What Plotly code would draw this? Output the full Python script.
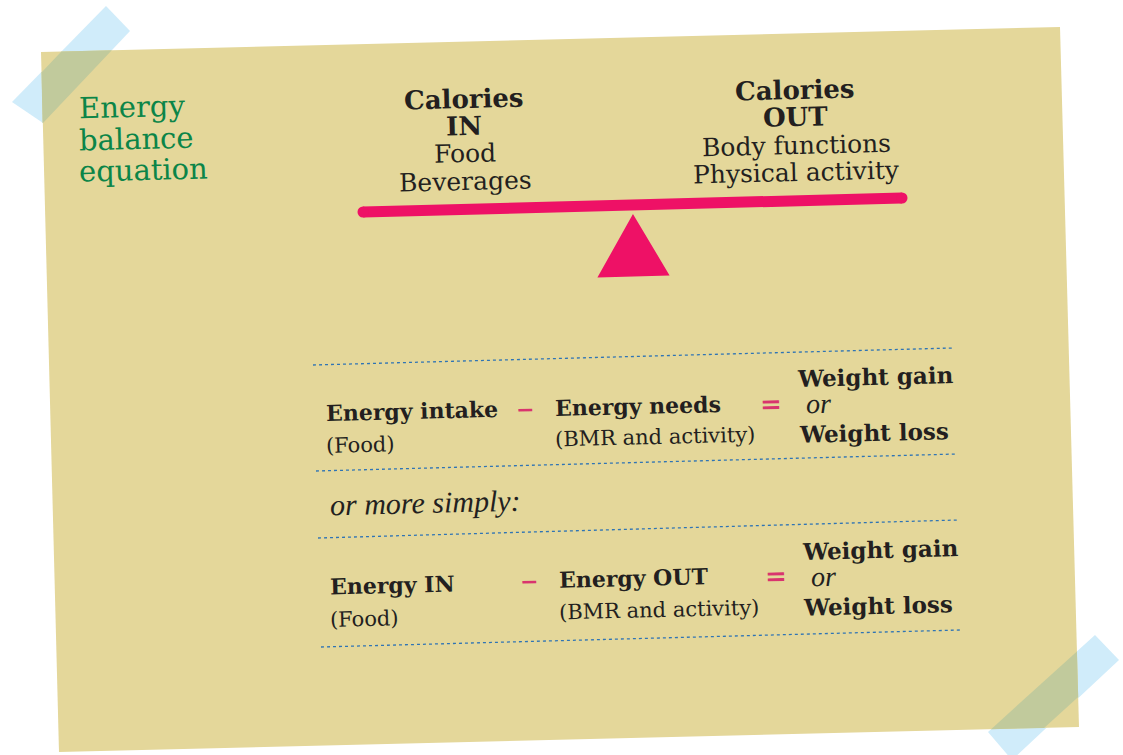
import plotly.graph_objects as go

# ---- text content ----
title_lines = ["Energy", "balance", "equation"]
in_head = ["Calories", "IN"]
in_items = ["Food", "Beverages"]
out_head = ["Calories", "OUT"]
out_items = ["Body functions", "Physical activity"]
eq1_terms = ["Energy intake", "Energy needs"]
eq1_notes = ["(Food)", "(BMR and activity)"]
eq2_terms = ["Energy IN", "Energy OUT"]
eq2_notes = ["(Food)", "(BMR and activity)"]
results = ["Weight gain", "or", "Weight loss"]
simply_text = "or more simply:"
operators = ["−", "="]

W, H = 1123, 755
ANG = -1.4
PAPER = "#E4D79A"
TAPE = "#D0ECFA"
TAPE_ON_PAPER = "#C1CA9C"
PINK = "#EE1166"
OPCOL = "#D9346E"
DARK = "#231F20"
GREEN = "#0B8548"
DOT = "#2F74B5"

SLAB = "DejaVu Serif"
ITAL = "Liberation Serif"

fig = go.Figure()

shapes = []
# tapes (under paper), paper, overlap regions
shapes.append(dict(type="path", path="M 106 6 L 130 31 L 43 123 L 12 102 Z",
                   fillcolor=TAPE, line=dict(width=0), layer="below"))
shapes.append(dict(type="path", path="M 1095 635 L 1119 660 L 1012 760 L 988 732 Z",
                   fillcolor=TAPE, line=dict(width=0), layer="below"))
shapes.append(dict(type="path", path="M 41 52 L 1060 27 L 1079 727 L 59 752 Z",
                   fillcolor=PAPER, line=dict(width=0), layer="below"))
shapes.append(dict(type="path", path="M 41.5 72.4 L 61.4 51.5 L 111.8 50.3 L 43 123 L 42.5 122.7 Z",
                   fillcolor=TAPE_ON_PAPER, line=dict(width=0), layer="below"))
shapes.append(dict(type="path", path="M 991.1 729.2 L 1076.9 651.4 L 1078.2 697.0 L 1044.1 727.9 Z",
                   fillcolor=TAPE_ON_PAPER, line=dict(width=0), layer="below"))
# fulcrum triangle
shapes.append(dict(type="path", path="M 633 217 L 667 274 L 600 276 Z",
                   fillcolor=PINK, line=dict(color=PINK, width=3)))
# dotted separators
for (x0, y0, x1, y1) in [(313, 365, 953, 348), (316, 471, 957, 454),
                         (318, 538, 958, 520), (321, 647, 960, 630)]:
    shapes.append(dict(type="line", x0=x0, y0=y0, x1=x1, y1=y1,
                       line=dict(color=DOT, width=1.3, dash="dot")))

# beam
fig.add_trace(go.Scatter(x=[363, 902], y=[212, 198], mode="lines+markers",
                         line=dict(color=PINK, width=11),
                         marker=dict(color=PINK, size=11, line=dict(width=0)),
                         hoverinfo="skip", showlegend=False))

ann = []
def txt(s, x, y, size, color=DARK, family=SLAB, weight="normal", style="normal",
        xanchor="center"):
    ann.append(dict(text=s, x=x, y=y, xref="x", yref="y", showarrow=False,
                    xanchor=xanchor, yanchor="middle", textangle=ANG,
                    font=dict(size=size, color=color, family=family,
                              weight=weight, style=style)))

# title
for line, y in zip(title_lines, [107, 139, 170]):
    txt(line, 77, y, 29, color=GREEN, xanchor="left")

# calories in
for line, y in zip(in_head, [99, 126]):
    txt(line, 464, y, 26, weight="bold")
for line, y in zip(in_items, [153, 181]):
    txt(line, 465, y, 25)
# calories out
for line, y in zip(out_head, [90, 117]):
    txt(line, 795, y, 26, weight="bold")
for line, y in zip(out_items, [145, 172]):
    txt(line, 796, y, 25)

# equation 1
txt(eq1_terms[0], 324, 411, 22, weight="bold", xanchor="left")
txt(eq1_notes[0], 324, 445, 21, xanchor="left")
txt(operators[0], 525, 409, 22, color=OPCOL, weight="bold")
txt(eq1_terms[1], 553, 406, 22, weight="bold", xanchor="left")
txt(eq1_notes[1], 553, 437, 21, xanchor="left")
txt(operators[1], 771, 404, 26, color=OPCOL, weight="bold")
txt(results[0], 795, 376, 23, weight="bold", xanchor="left")
txt(results[1], 804, 403, 28, family=ITAL, style="italic", xanchor="left")
txt(results[2], 797, 432, 23, weight="bold", xanchor="left")

# or more simply
txt(simply_text, 328, 502, 30, family=ITAL, style="italic", xanchor="left")

# equation 2
txt(eq2_terms[0], 328, 585, 22, weight="bold", xanchor="left")
txt(eq2_notes[0], 328, 619, 21, xanchor="left")
txt(operators[0], 529, 581, 22, color=OPCOL, weight="bold")
txt(eq2_terms[1], 557, 578, 22, weight="bold", xanchor="left")
txt(eq2_notes[1], 557, 610, 21, xanchor="left")
txt(operators[1], 776, 576, 26, color=OPCOL, weight="bold")
txt(results[0], 800, 549, 23, weight="bold", xanchor="left")
txt(results[1], 809, 576, 28, family=ITAL, style="italic", xanchor="left")
txt(results[2], 801, 605, 23, weight="bold", xanchor="left")

fig.update_layout(
    width=W, height=H,
    margin=dict(l=0, r=0, t=0, b=0),
    paper_bgcolor="white", plot_bgcolor="white",
    xaxis=dict(range=[0, W], visible=False, fixedrange=True),
    yaxis=dict(range=[H, 0], visible=False, fixedrange=True),
    shapes=shapes, annotations=ann, showlegend=False,
)
fig.write_html("out.html", config={"displayModeBar": False},
               post_script="document.body.style.margin='0';document.body.style.overflow='hidden';")
